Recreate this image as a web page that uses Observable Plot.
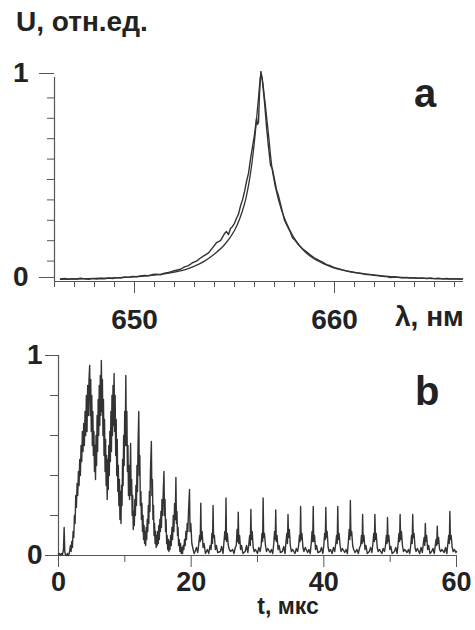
<!DOCTYPE html>
<html><head><meta charset="utf-8">
<script src="https://cdn.jsdelivr.net/npm/d3@7"></script>
<script src="https://cdn.jsdelivr.net/npm/@observablehq/plot@0.6"></script>
<style>
body{margin:0;background:#fff;}
#wrap{position:relative;width:475px;height:630px;overflow:hidden;font-family:"Liberation Sans",Arial,sans-serif;color:#222;background:#fff;}
#wrap svg{position:absolute;left:0;top:0;}
.lbl{position:absolute;font-weight:bold;white-space:nowrap;line-height:1;color:#222;}
</style></head><body>
<div id="wrap">
  <div class="lbl" style="left:16px;top:8px;font-size:28px;">U, отн.ед.</div>
  <div class="lbl" style="left:414px;top:73px;font-size:40px;">a</div>
  <div class="lbl" style="left:395px;top:303px;font-size:28px;">λ, нм</div>
  <div class="lbl" style="left:415px;top:371px;font-size:40px;">b</div>
  <div class="lbl" style="left:288px;top:597px;font-size:23px;line-height:0.8;transform:translateX(-50%);">t, мкс</div>
</div>
<script>
// ---- Panel a: spectral line profile (wavelength nm, relative intensity)
const spectrumA = [
[646.3,.012],[646.5,.015],[646.7,.011],[646.9,.014],[647.1,.012],[647.3,.016],[647.5,.013],[647.7,.011],[647.9,.014],[648.1,.012],
[648.3,.015],[648.5,.013],[648.7,.017],[648.9,.015],[649.1,.019],[649.3,.017],[649.5,.022],[649.7,.02],[649.9,.025],[650.1,.023],
[650.3,.027],[650.5,.03],[650.7,.028],[650.9,.034],[651.1,.036],[651.3,.033],[651.5,.041],[651.7,.044],[651.9,.05],[652.1,.055],
[652.3,.06],[652.5,.072],[652.7,.078],[652.9,.092],[653.1,.1],[653.3,.115],[653.5,.128],[653.7,.14],[653.9,.165],[654.1,.19],
[654.3,.2],[654.5,.235],[654.6,.245],[654.7,.23],[654.8,.26],[654.9,.27],[655.0,.285],[655.1,.31],[655.2,.33],[655.3,.37],
[655.4,.4],[655.5,.44],[655.6,.49],[655.7,.53],[655.8,.6],[655.9,.66],[656.0,.72],[656.1,.8],[656.15,.77],[656.2,.78],
[656.25,.92],[656.32,1.03],[656.4,.98],[656.5,.88],[656.6,.76],[656.7,.66],[656.8,.57],[656.9,.55],[657.0,.5],[657.1,.45],
[657.2,.42],[657.3,.38],[657.4,.34],[657.5,.3],[657.6,.28],[657.7,.26],[657.8,.24],[657.9,.215],[658.0,.205],[658.2,.18],
[658.4,.16],[658.6,.145],[658.8,.13],[659.0,.115],[659.2,.105],[659.4,.095],[659.6,.083],[659.8,.077],[660.0,.068],[660.2,.063],
[660.4,.057],[660.6,.052],[660.8,.048],[661.0,.044],[661.2,.041],[661.4,.038],[661.6,.034],[661.8,.033],[662.0,.03],[662.2,.028],
[662.4,.025],[662.6,.024],[662.8,.019],[663.0,.022],[663.2,.02],[663.4,.018],[663.6,.02],[663.8,.017],[664.0,.019],[664.2,.016],
[664.4,.018],[664.6,.015],[664.8,.017],[665.0,.014],[665.2,.016],[665.4,.013],[665.6,.015],[665.8,.012],[666.0,.014],[666.2,.012],[666.4,.013]
];
const fitA = [
[646.3,.011],[647,.012],[648,.015],[649,.018],[650,.023],[651,.031],[652,.046],[652.5,.057],[653,.075],[653.5,.1],
[654,.135],[654.5,.18],[655,.25],[655.5,.38],[655.8,.53],[656.0,.69],[656.2,.9],[656.33,1.02],[656.5,.9],[656.7,.72],
[656.9,.54],[657.2,.4],[657.5,.31],[658,.21],[658.5,.148],[659,.11],[659.5,.085],[660,.066],[661,.045],[662,.032],
[663,.022],[664,.017],[665,.014],[666.4,.012]
];
const xMajorA = [650, 660];
const xMinorA = [646,647,648,649,650,651,652,653,654,655,656,657,658,659,660,661,662,663,664,665,666];
const yMajorA = [0, 1];
const yMinorA = [0.1,0.2,0.3,0.4,0.5,0.6,0.7,0.8,0.9];

// ---- Panel b: time signal (t, µs ; U)
const pulseEarly = [
[0.0,.005],[0.15,.01],[0.3,0],[0.45,.01],[0.6,.005],[0.75,.03],[0.85,.14],[0.95,.02],[1.05,.005],[1.2,0],[1.35,.01],[1.5,0],
[1.65,.015],[1.8,.05],[1.9,.02],[2.0,.07],[2.1,.04],[2.2,.12],[2.3,.09],[2.4,.2],[2.5,.16],[2.6,.3],[2.7,.24],
[2.8,.36],[2.9,.3],[3.0,.42],[3.1,.35],[3.2,.48],[3.3,.4],[3.4,.55],[3.5,.47],[3.6,.62],[3.7,.52],[3.8,.66],[3.9,.55],
[4.0,.72],[4.1,.6],[4.2,.8],[4.3,.62],[4.4,.85],[4.5,.7],[4.6,.88],[4.7,.95],
[4.78,.7],[4.86,.88],[4.94,.62],[5.02,.8],[5.1,.55],[5.18,.72],[5.26,.5],[5.34,.62],[5.42,.42],[5.5,.55],[5.58,.38],[5.66,.6],
[5.74,.45],[5.82,.7],[5.9,.52],[5.98,.78],[6.06,.6],[6.14,.85],[6.22,.65],[6.3,.9],[6.38,.7],[6.46,.975],
[6.54,.72],[6.62,.88],[6.7,.6],[6.78,.78],[6.86,.5],[6.94,.68],[7.02,.42],[7.1,.58],[7.18,.35],[7.26,.5],[7.34,.28],[7.42,.48],
[7.5,.33],[7.58,.55],[7.66,.4],[7.74,.62],[7.82,.47],[7.9,.72],[7.98,.52],[8.06,.8],[8.14,.6],[8.22,.85],[8.3,.65],[8.38,.91],
[8.46,.62],[8.54,.8],[8.62,.5],[8.7,.68],[8.78,.4],[8.86,.58],[8.94,.32],[9.02,.45],[9.1,.25],[9.18,.38],[9.26,.18],[9.34,.32],
[9.42,.16],[9.5,.35],[9.58,.25],[9.66,.48],[9.74,.35],[9.82,.6],[9.9,.45],[9.98,.72],[10.06,.55],[10.15,.9],
[10.23,.55],[10.31,.72],[10.39,.42],[10.47,.55],[10.55,.3],[10.63,.45],[10.71,.28],[10.79,.4],[10.87,.56],[10.95,.3],[11.03,.38],
[11.11,.2],[11.19,.3],[11.27,.13],[11.35,.22],[11.43,.15],[11.51,.28],[11.59,.2],[11.67,.35],[11.75,.25],[11.83,.45],[11.91,.32],
[11.99,.55],[12.1,.72],
[12.18,.4],[12.26,.5],[12.34,.25],[12.42,.32],[12.5,.18],[12.58,.26],[12.66,.12],[12.74,.2],[12.82,.08],[12.9,.15],[12.98,.06],
[13.06,.12],[13.14,.05],[13.22,.14],[13.3,.08],[13.38,.18],[13.46,.12],[13.54,.25],[13.62,.16],[13.7,.32],[13.78,.22],[13.86,.42],[14.0,.57],
[14.08,.3],[14.16,.38],[14.24,.18],[14.32,.25],[14.4,.1],[14.48,.16],[14.56,.06],[14.64,.12],[14.72,.04],[14.8,.1],[14.88,.05],
[14.96,.12],[15.04,.06],[15.12,.15],[15.2,.08],[15.28,.18],[15.36,.12],[15.44,.22],[15.52,.14],[15.6,.28],[15.7,.2],[15.8,.33],[15.9,.42],
[15.98,.2],[16.06,.28],[16.14,.12],[16.22,.18],[16.3,.06],[16.38,.1],[16.46,.03],[16.56,.08],[16.64,.02],[16.72,.07],[16.8,.03],
[16.9,.1],[17.0,.05],[17.1,.14],[17.2,.08],[17.3,.2],[17.4,.12],[17.5,.26],[17.6,.18],[17.7,.39],
[17.78,.16],[17.86,.22],[17.94,.1],[18.02,.14],[18.1,.05],[18.2,.08],[18.3,.02],[18.4,.06],[18.5,.01],[18.6,.04],[18.7,.01],
[18.8,.05],[18.9,.03],[19.0,.08],[19.1,.05],[19.2,.12],[19.3,.08],[19.4,.16],[19.5,.12],[19.6,.22],[19.75,.33],
[19.83,.12],[19.95,.16],[20.1,.06],[20.3,.03],[20.45,.01]
];
const pulseLate = [
[20.6,.02],[20.8,.04],[21.0,.015],[21.15,.06],[21.27,.1],[21.37,.07],[21.45,.262],[21.53,.08],[21.65,.12],[21.8,.04],[21.95,.06],[22.15,.01],
[22.45,.03],[22.65,.01],[22.85,.05],[23.0,.03],[23.12,.11],[23.22,.06],[23.3,.25],[23.38,.09],[23.5,.1],[23.65,.03],[23.8,.05],[24.0,.015],
[24.4,.02],[24.6,.045],[24.8,.01],[24.95,.07],[25.07,.12],[25.17,.08],[25.25,.288],[25.33,.07],[25.45,.11],[25.6,.05],[25.75,.03],[25.95,.02],
[26.25,.03],[26.45,.01],[26.65,.04],[26.8,.05],[26.92,.13],[27.02,.07],[27.1,.217],[27.18,.06],[27.3,.1],[27.45,.03],[27.6,.05],[27.8,.01],
[28.15,.02],[28.35,.05],[28.55,.015],[28.7,.06],[28.82,.1],[28.92,.05],[29.0,.23],[29.08,.08],[29.2,.12],[29.35,.04],[29.5,.02],[29.7,.03],
[30.0,.01],[30.2,.04],[30.4,.02],[30.55,.05],[30.67,.11],[30.77,.07],[30.85,.288],[30.93,.09],[31.05,.11],[31.2,.05],[31.35,.02],[31.55,.035],
[31.9,.015],[32.1,.03],[32.3,.01],[32.45,.06],[32.57,.12],[32.67,.08],[32.75,.228],[32.83,.07],[32.95,.1],[33.1,.03],[33.25,.05],[33.45,.015],
[33.75,.02],[33.95,.045],[34.15,.01],[34.3,.07],[34.42,.11],[34.52,.06],[34.6,.205],[34.68,.09],[34.8,.13],[34.95,.05],[35.1,.02],[35.3,.03],
[35.65,.01],[35.85,.035],[36.05,.02],[36.2,.05],[36.32,.1],[36.42,.07],[36.5,.245],[36.58,.08],[36.7,.11],[36.85,.04],[37.0,.02],[37.2,.04],
[37.55,.015],[37.75,.03],[37.95,.01],[38.1,.06],[38.22,.12],[38.32,.07],[38.4,.245],[38.48,.07],[38.6,.1],[38.75,.03],[38.9,.05],[39.1,.015],
[39.45,.02],[39.65,.04],[39.85,.01],[40.0,.05],[40.12,.11],[40.22,.08],[40.3,.24],[40.38,.09],[40.5,.12],[40.65,.04],[40.8,.02],[41.0,.03],
[41.25,.01],[41.45,.04],[41.65,.02],[41.8,.06],[41.92,.1],[42.02,.06],[42.1,.245],[42.18,.08],[42.3,.11],[42.45,.05],[42.6,.02],[42.8,.035],
[43.15,.015],[43.35,.03],[43.55,.01],[43.7,.07],[43.82,.13],[43.92,.08],[44.0,.275],[44.08,.1],[44.2,.12],[44.35,.05],[44.5,.03],[44.7,.015],
[45.0,.03],[45.2,.01],[45.4,.04],[45.55,.05],[45.67,.1],[45.77,.06],[45.85,.205],[45.93,.07],[46.05,.1],[46.2,.03],[46.35,.05],[46.55,.01],
[46.85,.02],[47.05,.04],[47.25,.015],[47.4,.06],[47.52,.11],[47.62,.07],[47.7,.205],[47.78,.08],[47.9,.11],[48.05,.04],[48.2,.02],[48.4,.03],
[48.75,.01],[48.95,.035],[49.15,.02],[49.3,.05],[49.42,.1],[49.52,.06],[49.6,.19],[49.68,.07],[49.8,.1],[49.95,.03],[50.1,.045],[50.3,.01],
[50.65,.02],[50.85,.04],[51.05,.01],[51.2,.06],[51.32,.11],[51.42,.07],[51.5,.205],[51.58,.08],[51.7,.12],[51.85,.05],[52.0,.02],[52.2,.03],
[52.55,.015],[52.75,.03],[52.95,.01],[53.1,.05],[53.22,.1],[53.32,.06],[53.4,.205],[53.48,.09],[53.6,.11],[53.75,.04],[53.9,.02],[54.1,.035],
[54.45,.01],[54.65,.04],[54.85,.015],[55.0,.06],[55.12,.09],[55.22,.05],[55.3,.16],[55.38,.07],[55.5,.1],[55.65,.03],[55.8,.05],[56.0,.01],
[56.25,.02],[56.45,.035],[56.65,.01],[56.8,.05],[56.92,.08],[57.02,.05],[57.1,.147],[57.18,.06],[57.3,.09],[57.45,.03],[57.6,.02],[57.8,.03],
[58.15,.015],[58.35,.04],[58.55,.01],[58.7,.06],[58.82,.1],[58.92,.06],[59.0,.22],[59.08,.08],[59.2,.1],[59.35,.04],[59.5,.02],[59.7,.03],[59.9,.015],[60.0,.02]
];
const xMajorB = [0, 20, 40, 60];
const xMinorB = [10, 30, 50];
const yMajorB = [0, 1];
const yMinorB = [0.2, 0.4, 0.6, 0.8];

const FONT = "'Liberation Sans', Arial, sans-serif";
const AX = "#555";
const INK = "#333";
const fmt = d => String(d);
const style = {fontFamily: FONT, color: "#222", background: "transparent", overflow: "visible"};

const plotA = Plot.plot({
  width: 475, height: 630,
  marginLeft: 54, marginRight: 12, marginTop: 77, marginBottom: 349,
  x: {domain: [646, 666.45]},
  y: {domain: [0, 1]},
  style,
  marks: [
    Plot.axisY(yMinorA, {tickSize: 7, tickFormat: () => "", label: null, stroke: AX}),
    Plot.axisY(yMajorA, {tickSize: 15, tickPadding: 11, dy: -4, fontSize: 28, fontWeight: "bold", tickFormat: fmt, label: null, stroke: AX}),
    Plot.axisX(xMinorA, {tickSize: 6, tickFormat: () => "", label: null, stroke: AX}),
    Plot.axisX(xMajorA, {tickSize: 12, tickPadding: 16, fontSize: 28, fontWeight: "bold", tickFormat: fmt, label: null, stroke: AX}),
    Plot.ruleX([646], {stroke: AX, strokeWidth: 1.2}),
    Plot.ruleY([0], {stroke: AX, strokeWidth: 1.2}),
    Plot.line(fitA, {x: d => d[0], y: d => d[1], stroke: INK, strokeWidth: 1.3, curve: "catmull-rom"}),
    Plot.line(spectrumA, {x: d => d[0], y: d => d[1], stroke: INK, strokeWidth: 1.4})
  ]
});

const plotB = Plot.plot({
  width: 475, height: 630,
  marginLeft: 58, marginRight: 19, marginTop: 355, marginBottom: 75,
  x: {domain: [0, 60]},
  y: {domain: [0, 1]},
  style,
  marks: [
    Plot.axisY(yMinorB, {tickSize: 8, tickFormat: () => "", label: null, stroke: AX}),
    Plot.axisY(yMajorB, {tickSize: 13, tickPadding: 3, fontSize: 28, fontWeight: "bold", tickFormat: fmt, label: null, stroke: AX}),
    Plot.axisX(xMinorB, {tickSize: 7, tickFormat: () => "", label: null, stroke: AX}),
    Plot.axisX(xMajorB, {tickSize: 12, tickPadding: 4, fontSize: 27, fontWeight: "bold", tickFormat: fmt, label: null, stroke: AX}),
    Plot.ruleX([0], {stroke: AX, strokeWidth: 1.2}),
    Plot.ruleY([0], {stroke: AX, strokeWidth: 1.2}),
    Plot.line(pulseEarly.concat(pulseLate), {x: d => d[0], y: d => d[1], stroke: INK, strokeWidth: 1.4})
  ]
});

const wrap = document.getElementById("wrap");
wrap.insertBefore(plotB, wrap.firstChild);
wrap.insertBefore(plotA, wrap.firstChild);
</script>
</body></html>
